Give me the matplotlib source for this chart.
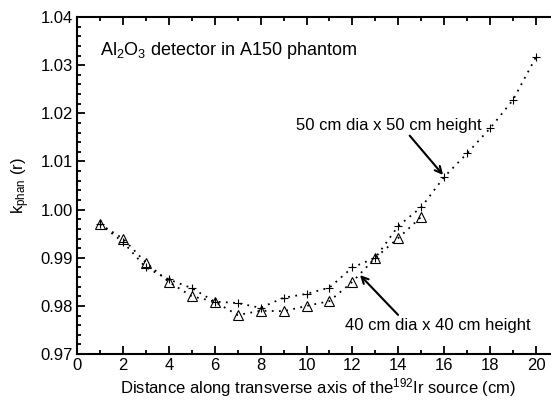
import numpy as np
import matplotlib
matplotlib.use("Agg")
import matplotlib.pyplot as plt
from matplotlib.ticker import MultipleLocator

plt.rcParams['font.family'] = ['Liberation Sans', 'DejaVu Sans']
plt.rcParams['mathtext.fontset'] = 'custom'
plt.rcParams['mathtext.rm'] = 'Liberation Sans'
plt.rcParams['mathtext.it'] = 'Liberation Sans'
plt.rcParams['mathtext.default'] = 'regular'

# 50 cm dia x 50 cm height phantom
dist_50 = [1, 2, 3, 4, 5, 6, 7, 8, 9, 10, 11, 12, 13, 14, 15, 16, 17, 18, 19, 20]
kphan_50 = [0.997, 0.9933, 0.988, 0.9855, 0.9837, 0.9809, 0.9806, 0.9796, 0.9817, 0.9825,
            0.9838, 0.988, 0.990, 0.9966, 1.0005, 1.0068, 1.0117, 1.0169, 1.0228, 1.0317]

# 40 cm dia x 40 cm height phantom
dist_40 = [1, 2, 3, 4, 5, 6, 7, 8, 9, 10, 11, 12, 13, 14, 15]
kphan_40 = [0.997, 0.994, 0.989, 0.985, 0.982, 0.9809, 0.9781, 0.979, 0.9789, 0.980,
            0.981, 0.985, 0.990, 0.9941, 0.9985]

fig = plt.figure(figsize=(5.51, 4.01), dpi=100)
ax = fig.add_axes([0.1397, 0.117, 0.8748, 0.8406])

dots = (0, (1, 3))
ax.plot(dist_50, kphan_50, color='black', linestyle=dots, linewidth=1.3,
        marker='+', markersize=6, markeredgewidth=0.8)
ax.plot(dist_40, kphan_40, color='black', linestyle=dots, linewidth=1.3,
        marker='^', markersize=7.5, markerfacecolor='none', markeredgewidth=0.8)

ax.set_xlim(0, 21)
ax.set_ylim(0.97, 1.04)
ax.xaxis.set_major_locator(MultipleLocator(2))
ax.xaxis.set_minor_locator(MultipleLocator(1))
ax.yaxis.set_major_locator(MultipleLocator(0.01))
ax.yaxis.set_minor_locator(MultipleLocator(0.002))
ax.yaxis.set_major_formatter(matplotlib.ticker.FormatStrFormatter('%.2f'))

ax.tick_params(which='both', direction='in', top=True, right=True, labelsize=12, width=1.3)
ax.tick_params(which='major', length=6, pad=3)
ax.tick_params(which='minor', length=3)
for s in ax.spines.values():
    s.set_linewidth(1.5)

ax.set_xlabel('Distance along transverse axis of the$^{192}$Ir source (cm)', fontsize=12, labelpad=2)
ax.set_ylabel('k$_{phan}$ (r)', fontsize=12, labelpad=6)

ax.text(1.0, 1.0331, 'Al$_2$O$_3$ detector in A150 phantom', fontsize=13, va='center', ha='left')

ax.annotate('50 cm dia x 50 cm height', xy=(15.95, 1.0072), xytext=(9.54, 1.0175),
            fontsize=12, va='center', ha='left',
            arrowprops=dict(arrowstyle='->', color='black', lw=1.5, shrinkA=0, shrinkB=0,
                            relpos=(0.6, 0.0)))
ax.annotate('40 cm dia x 40 cm height', xy=(12.33, 0.9864), xytext=(11.68, 0.976),
            fontsize=12, va='center', ha='left',
            arrowprops=dict(arrowstyle='->', color='black', lw=1.5, shrinkA=0, shrinkB=0,
                            relpos=(0.3, 1.0)))

fig.savefig('out.png', dpi=100)
